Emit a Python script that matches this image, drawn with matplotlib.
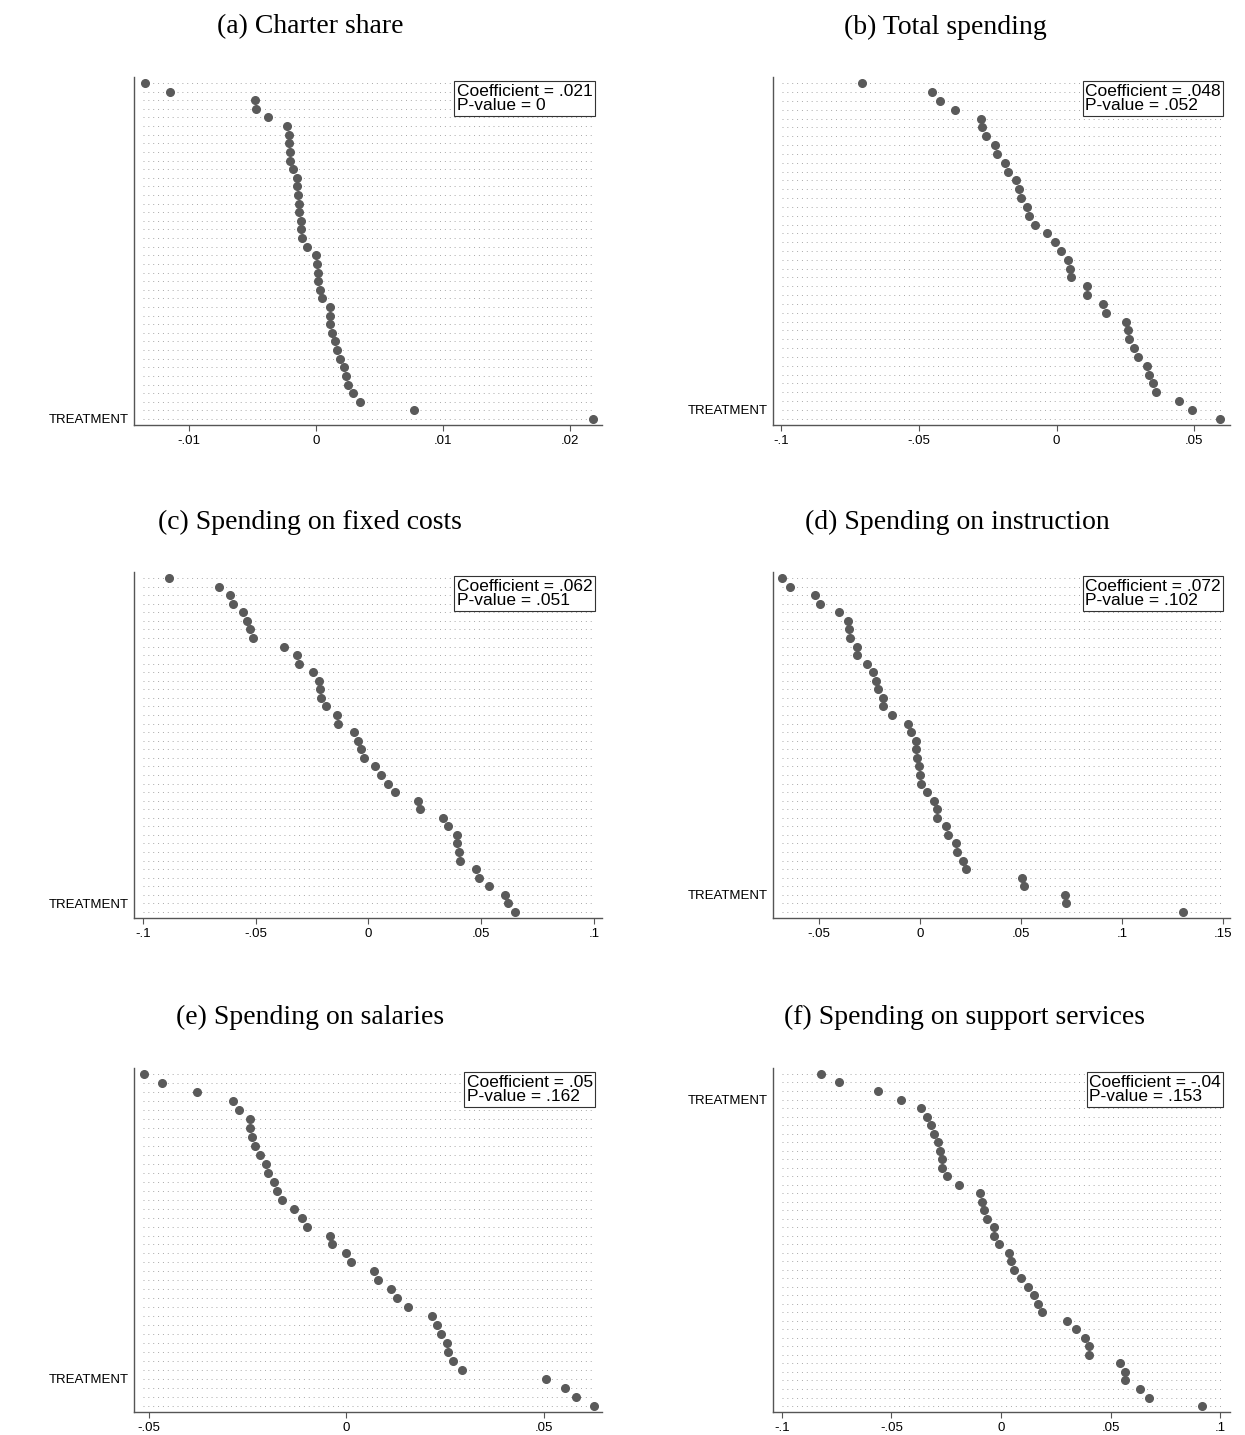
import numpy as np
import matplotlib
matplotlib.use('Agg')
from matplotlib import pyplot as plt

# point estimates, top row first
a_vals = [-0.0134, -0.0115, -0.0048, -0.0047, -0.0038, -0.0023, -0.0021, -0.0021, -0.0020, -0.0020,
          -0.0018, -0.0015, -0.0015, -0.0014, -0.0013, -0.0013, -0.0012, -0.0012, -0.0011, -0.0007,
          0.0000, 0.0001, 0.0002, 0.0002, 0.0003, 0.0005, 0.0011, 0.0011, 0.0011, 0.0013,
          0.0015, 0.0017, 0.0019, 0.0022, 0.0024, 0.0025, 0.0029, 0.0035, 0.0077, 0.0218]
b_vals = [-0.0705, -0.0453, -0.0422, -0.0370, -0.0276, -0.0272, -0.0255, -0.0222, -0.0216, -0.0186,
          -0.0175, -0.0147, -0.0136, -0.0128, -0.0108, -0.0100, -0.0077, -0.0035, -0.0007, 0.0016,
          0.0040, 0.0049, 0.0051, 0.0109, 0.0111, 0.0168, 0.0180, 0.0252, 0.0260, 0.0263,
          0.0282, 0.0295, 0.0330, 0.0334, 0.0352, 0.0360, 0.0445, 0.0493, 0.0594]
c_vals = [-0.0886, -0.0664, -0.0613, -0.0599, -0.0558, -0.0538, -0.0527, -0.0510, -0.0373, -0.0316,
          -0.0309, -0.0247, -0.0220, -0.0213, -0.0210, -0.0188, -0.0140, -0.0137, -0.0064, -0.0046,
          -0.0034, -0.0018, 0.0028, 0.0055, 0.0087, 0.0119, 0.0218, 0.0227, 0.0330, 0.0352,
          0.0393, 0.0393, 0.0403, 0.0407, 0.0476, 0.0492, 0.0533, 0.0607, 0.0618, 0.0648]
d_vals = [-0.0685, -0.0643, -0.0519, -0.0495, -0.0401, -0.0359, -0.0352, -0.0346, -0.0313, -0.0313,
          -0.0264, -0.0231, -0.0220, -0.0208, -0.0186, -0.0186, -0.0140, -0.0058, -0.0046, -0.0018,
          -0.0018, -0.0013, -0.0005, -0.0002, 0.0004, 0.0033, 0.0069, 0.0086, 0.0086, 0.0128,
          0.0140, 0.0180, 0.0184, 0.0213, 0.0226, 0.0505, 0.0516, 0.0718, 0.0725, 0.1304]
e_vals = [-0.0513, -0.0466, -0.0378, -0.0287, -0.0272, -0.0245, -0.0245, -0.0240, -0.0231, -0.0220,
          -0.0205, -0.0199, -0.0183, -0.0177, -0.0162, -0.0133, -0.0113, -0.0099, -0.0041, -0.0037,
          0.0000, 0.0012, 0.0069, 0.0080, 0.0114, 0.0128, 0.0155, 0.0217, 0.0229, 0.0240,
          0.0254, 0.0257, 0.0270, 0.0292, 0.0504, 0.0553, 0.0580, 0.0626]
f_vals = [-0.0820, -0.0740, -0.0560, -0.0458, -0.0364, -0.0337, -0.0320, -0.0305, -0.0289, -0.0277,
          -0.0267, -0.0267, -0.0248, -0.0191, -0.0096, -0.0087, -0.0077, -0.0064, -0.0032, -0.0032,
          -0.0010, 0.0035, 0.0045, 0.0060, 0.0091, 0.0122, 0.0151, 0.0169, 0.0185, 0.0302,
          0.0341, 0.0384, 0.0403, 0.0403, 0.0542, 0.0564, 0.0564, 0.0633, 0.0675, 0.0918]

titles = ['(a) Charter share', '(b) Total spending', '(c) Spending on fixed costs',
          '(d) Spending on instruction', '(e) Spending on salaries', '(f) Spending on support services']
treat_row = [39, 37, 38, 37, 34, 3]
coefs = ['.021', '.048', '.062', '.072', '.05', '-.04']
pvals = ['0', '.052', '.051', '.102', '.162', '.153']
xticks = [[-0.01, 0, 0.01, 0.02], [-0.1, -0.05, 0, 0.05], [-0.1, -0.05, 0, 0.05, 0.1],
          [-0.05, 0, 0.05, 0.1, 0.15], [-0.05, 0, 0.05], [-0.1, -0.05, 0, 0.05, 0.1]]
xlims = [(-0.0143, 0.0225), (-0.103, 0.063), (-0.104, 0.1036),
         (-0.0729, 0.1536), (-0.0538, 0.0647), (-0.104, 0.1045)]
allvals = [a_vals, b_vals, c_vals, d_vals, e_vals, f_vals]

def fmt(v):
    if v == 0:
        return '0'
    return ('%g' % v).replace('0.', '.')

W, H = 1245., 1435.
fig = plt.figure(figsize=(W/100, H/100), dpi=100)
boxes = [(134, 602, 77, 425), (773, 1230, 77, 425),
         (134, 602, 572, 918), (773, 1230, 572, 918),
         (134, 602, 1068, 1412), (773, 1230, 1068, 1412)]
title_pos = [(310, 27), (945, 27), (310, 522), (957, 522), (310, 1017), (965, 1017)]
dotcol = '#5a5a5a'

for i in range(6):
    x0, x1, y0, y1 = boxes[i]
    ax = fig.add_axes([x0/W, 1-y1/H, (x1-x0)/W, (y1-y0)/H])
    vals = np.array(allvals[i])
    n = len(vals)
    rows = np.arange(n)
    lo, hi = xlims[i]
    ax.hlines(rows, lo + 0.02*(hi-lo), hi - 0.02*(hi-lo), colors='#a8a8a8',
              linestyles=(0, (1, 4)), linewidth=0.7, zorder=1)
    ax.plot(vals, rows, 'o', color=dotcol, markersize=5.5, zorder=3)
    ax.set_xlim(lo, hi)
    ax.set_ylim(n - 0.3, -0.7)
    ax.set_yticks([treat_row[i]])
    ax.set_yticklabels(['TREATMENT'], fontsize=9.5, family='Liberation Sans')
    ax.tick_params(axis='y', length=0, pad=4)
    ax.set_xticks(xticks[i])
    ax.set_xticklabels([fmt(t) for t in xticks[i]], fontsize=9.5, family='Liberation Sans')
    ax.tick_params(axis='x', length=4, color='#555555', direction='out')
    for s in ['top', 'right']:
        ax.spines[s].set_visible(False)
    for s in ['left', 'bottom']:
        ax.spines[s].set_color('#555555')
        ax.spines[s].set_linewidth(1.0)
    ax.text(0.98, 0.98, 'Coefficient = ' + coefs[i] + '\nP-value = ' + pvals[i],
            transform=ax.transAxes, ha='right', va='top', multialignment='left',
            fontsize=12.5, family='Liberation Sans', linespacing=0.95,
            bbox=dict(boxstyle='square,pad=0.15', fc='white', ec='#333333', lw=0.8), zorder=5)
    cx, cy = title_pos[i]
    fig.text(cx/W, 1 - cy/H, titles[i], ha='center', va='center',
             fontsize=20, family='Liberation Serif')

fig.savefig('out.png', dpi=100)
